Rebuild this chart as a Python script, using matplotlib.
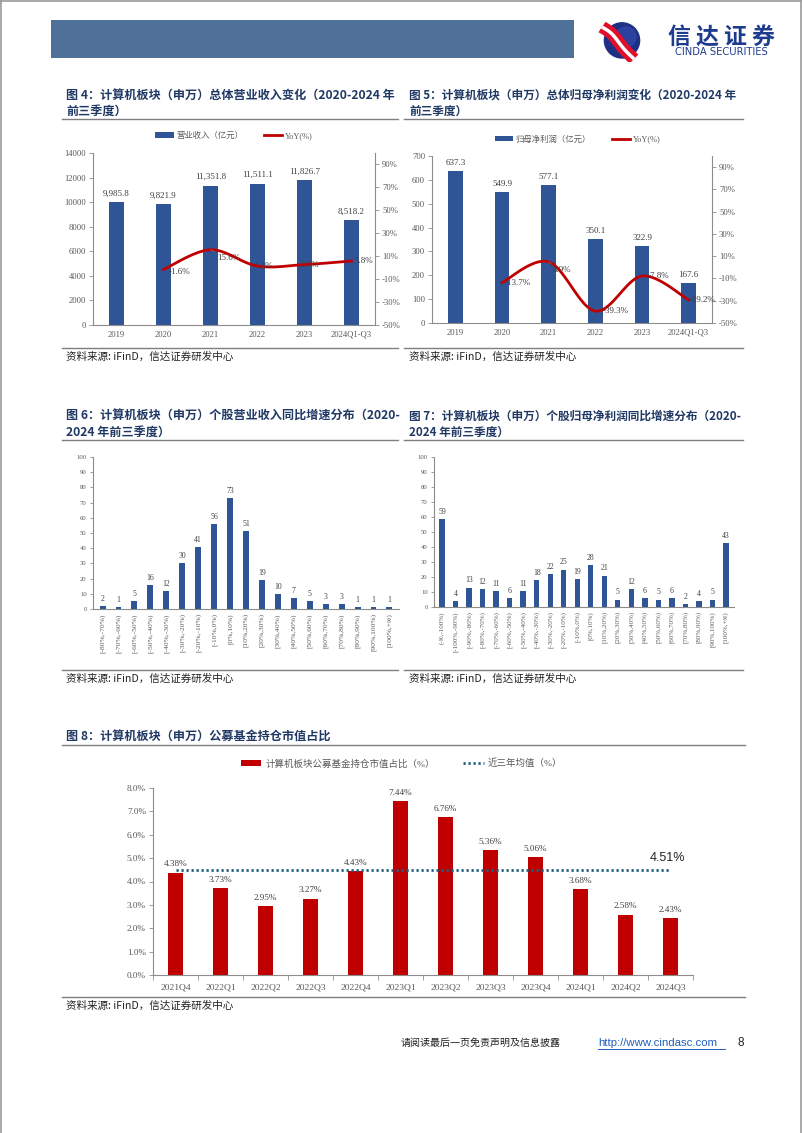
import matplotlib
matplotlib.use("Agg")
import matplotlib.pyplot as plt
from matplotlib.patches import Rectangle, Circle
from matplotlib.lines import Line2D
import numpy as np

W, H = 802, 1133
CJK = "Noto Sans CJK SC"
SERIF = ["Liberation Serif", CJK]
plt.rcParams["font.family"] = SERIF

TITLE_C = "#1F3864"
TICK_C = "#595959"
AX_C = "#8C8C8C"
LBL_C = "#404040"
BLUE = "#2F5597"
RED = "#C00000"

# ---- data ----
years = ["2019", "2020", "2021", "2022", "2023", "2024Q1-Q3"]
revenue = [9985.8, 9821.9, 11351.8, 11511.1, 11826.7, 8518.2]
revenue_yoy = [-1.6, 15.6, 1.4, 2.7, 5.8]          # 2020 ~ 2024Q1-Q3
profit = [637.3, 549.9, 577.1, 350.1, 322.9, 167.6]
profit_yoy = [-13.7, 4.9, -39.3, -7.8, -29.2]       # 2020 ~ 2024Q1-Q3

rev_bins = ["[-80%,-70%)", "[-70%,-60%)", "[-60%,-50%)", "[-50%,-40%)", "[-40%,-30%)",
            "[-30%,-20%)", "[-20%,-10%)", "[-10%,0%)", "[0%,10%)", "[10%,20%)",
            "[20%,30%)", "[30%,40%)", "[40%,50%)", "[50%,60%)", "[60%,70%)",
            "[70%,80%)", "[80%,90%)", "[90%,100%)", "[100%,+∞)"]
rev_counts = [2, 1, 5, 16, 12, 30, 41, 56, 73, 51, 19, 10, 7, 5, 3, 3, 1, 1, 1]

np_bins = ["(-∞,-100%)", "[-100%,-90%)", "[-90%,-80%)", "[-80%,-70%)", "[-70%,-60%)",
           "[-60%,-50%)", "[-50%,-40%)", "[-40%,-30%)", "[-30%,-20%)", "[-20%,-10%)",
           "[-10%,0%)", "[0%,10%)", "[10%,20%)", "[20%,30%)", "[30%,40%)", "[40%,50%)",
           "[50%,60%)", "[60%,70%)", "[70%,80%)", "[80%,90%)", "[90%,100%)", "[100%,+∞)"]
np_counts = [59, 4, 13, 12, 11, 6, 11, 18, 22, 25, 19, 28, 21, 5, 12, 6, 5, 6, 2, 4, 5, 43]

quarters = ["2021Q4", "2022Q1", "2022Q2", "2022Q3", "2022Q4", "2023Q1",
            "2023Q2", "2023Q3", "2023Q4", "2024Q1", "2024Q2", "2024Q3"]
fund_share = [4.38, 3.73, 2.95, 3.27, 4.43, 7.44, 6.76, 5.36, 5.06, 3.68, 2.58, 2.43]
fund_avg = 4.51

fig = plt.figure(figsize=(W / 100, H / 100), dpi=100)


def px_axes(x0, y0, x1, y1):
    return fig.add_axes([x0 / W, 1 - y1 / H, (x1 - x0) / W, (y1 - y0) / H])


def ftext(x, y, s, **kw):
    return fig.text(x / W, 1 - y / H, s, **kw)


def hline(x0, x1, y, color="#7F7F7F", lw=1.0):
    fig.add_artist(Line2D([x0 / W, x1 / W], [1 - y / H, 1 - y / H], color=color, lw=lw))


def smooth(xs, ys, n=30):
    # Excel-like smoothed line (Bezier through the points)
    p = np.column_stack([xs, ys]).astype(float)
    p = np.vstack([p[0], p, p[-1]])
    t = np.linspace(0, 1, n)[:, None]
    out = []
    for i in range(1, len(p) - 2):
        a, d = p[i], p[i + 1]
        b = a + (p[i + 1] - p[i - 1]) / 6
        c = d - (p[i + 2] - p[i]) / 6
        seg = (1 - t) ** 3 * a + 3 * (1 - t) ** 2 * t * b + 3 * (1 - t) * t ** 2 * c + t ** 3 * d
        out.append(seg)
    out = np.vstack(out)
    return out[:, 0], out[:, 1]


def style_axis(ax, left=True):
    for s in ["top", "right", "left", "bottom"]:
        ax.spines[s].set_visible(False)
    ax.spines["bottom"].set_visible(True)
    ax.spines["bottom"].set_color(AX_C)
    ax.spines["bottom"].set_linewidth(0.8)
    if left:
        ax.spines["left"].set_visible(True)
        ax.spines["left"].set_color(AX_C)
        ax.spines["left"].set_linewidth(0.8)
    ax.patch.set_alpha(0)


# ---- page frame and header ----
fig.add_artist(Line2D([0.5 / W, 0.5 / W], [0, 1], color="#9A9A9A", lw=1.2))
fig.add_artist(Line2D([800.5 / W, 800.5 / W], [0, 1], color="#9A9A9A", lw=1.2))
fig.add_artist(Line2D([0, 1], [1 - 0.8 / H, 1 - 0.8 / H], color="#9A9A9A", lw=1.2))
fig.add_artist(Rectangle((51 / W, 1 - 58 / H), (574 - 51) / W, 38 / H,
                         transform=fig.transFigure, color="#4E7099", lw=0))

lax = px_axes(588, 18, 652, 62)
lax.set_xlim(-1.1, 1.1)
lax.set_ylim(-1.1, 1.1)
lax.set_aspect("equal")
lax.axis("off")
lax.add_patch(Circle((0.1, -0.02), 0.88, color="#1F2F86"))
lax.add_patch(Circle((0.3, 0.15), 0.5, color="#3550B0", alpha=0.55))
sx, sy = smooth([-0.9, -0.4, 0.2, 0.7], [0.65, 0.3, -0.45, -0.95])
lax.plot(sx, sy, color="#E0102A", lw=9, solid_capstyle="butt")
lax.plot(sx, sy, color="white", lw=2.5, solid_capstyle="butt")

for i, ch in enumerate("信达证券"):
    ftext(679 + i * 28, 37, ch, family=[CJK], fontsize=16.5, fontweight="bold",
          color="#1E3C8E", ha="center", va="center")
ftext(721, 52, "CINDA SECURITIES", family=["DejaVu Sans"], fontsize=7.2,
      color="#1E3C8E", ha="center", va="center")


# ---- combo charts (figure 4 & 5) ----
def combo(box, vals, yoy, ymax, ystep, fmt, bar_label, offsets, leg_x):
    ax = px_axes(*box)
    x = np.arange(len(years))
    bars = ax.bar(x, vals, width=0.31, color=BLUE, zorder=2, label=bar_label)
    ax.set_xlim(-0.5, len(years) - 0.5)
    ax.set_ylim(0, ymax)
    ax.set_yticks(np.arange(0, ymax + 1, ystep))
    ax.set_xticks(x)
    ax.set_xticklabels(years)
    style_axis(ax)
    ax.tick_params(axis="y", length=3, width=0.6, color=AX_C, labelcolor=TICK_C,
                   labelsize=6.2, pad=2)
    ax.tick_params(axis="x", length=0, labelcolor=TICK_C, labelsize=6.2, pad=4)
    for xi, v in zip(x, vals):
        ax.text(xi, v + ymax * 0.025, fmt(v), ha="center", va="bottom",
                fontsize=6.5, color=LBL_C)

    ax2 = ax.twinx()
    ax2.set_ylim(-50, 100)
    ax2.set_yticks(np.arange(-50, 91, 20))
    ax2.set_yticklabels([f"{v}%" for v in range(-50, 91, 20)])
    for s in ["top", "left", "bottom"]:
        ax2.spines[s].set_visible(False)
    ax2.spines["right"].set_color(AX_C)
    ax2.spines["right"].set_linewidth(0.8)
    ax2.tick_params(axis="y", length=3, width=0.6, color=AX_C, labelcolor=TICK_C,
                    labelsize=6.2, pad=2)
    lx, ly = smooth(x[1:], yoy)
    line, = ax2.plot(lx, ly, color=RED, lw=2.0, zorder=3, label="YoY(%)")
    for xi, v, (dx, dy, ha, lead) in zip(x[1:], yoy, offsets):
        ap = dict(arrowstyle="-", color="#7F7F7F", lw=0.5,
                  shrinkA=0, shrinkB=0) if lead else None
        ax2.annotate(f"{v}%", (xi, v), xytext=(dx, dy), textcoords="offset points",
                     ha=ha, va="center", fontsize=6.5, color=LBL_C, arrowprops=ap)
    ax2.legend([bars, line], [bar_label, "YoY(%)"], loc="center", ncol=2,
               bbox_to_anchor=(leg_x, 1.1), frameon=False, fontsize=6,
               handlelength=2.2, handleheight=0.6, columnspacing=2.5,
               handletextpad=0.3, labelcolor=TICK_C)
    return ax


combo((93, 153, 375, 325), revenue, revenue_yoy, 14000, 2000,
      lambda v: f"{v:,.1f}", "营业收入（亿元）",
      [(4, -2, "left", False), (5, -6, "left", True), (4, 0, "center", False),
       (4, 0, "center", False), (2, 0, "left", False)], 0.5)
combo((432, 156, 712, 323), profit, profit_yoy, 700, 100,
      lambda v: f"{v:.1f}", "归母净利润（亿元）",
      [(2, 0, "left", False), (3, -6, "left", True), (5, 0, "left", False),
       (4, 0, "left", False), (1, 0, "left", False)], 0.52)


# ---- distribution charts (figure 6 & 7) ----
def dist(box, bins, counts, width, tsize):
    ax = px_axes(*box)
    x = np.arange(len(bins))
    ax.bar(x, counts, width=width, color=BLUE, zorder=2)
    ax.set_xlim(-0.6, len(bins) - 0.4)
    ax.set_ylim(0, 100)
    ax.set_yticks(range(0, 101, 10))
    ax.set_xticks(x)
    ax.set_xticklabels(bins, rotation=90)
    style_axis(ax)
    ax.tick_params(axis="y", length=2.5, width=0.6, color=AX_C, labelcolor=TICK_C,
                   labelsize=4.8, pad=2)
    ax.tick_params(axis="x", length=0, labelcolor=TICK_C, labelsize=tsize, pad=3)
    for xi, v in zip(x, counts):
        ax.text(xi, v + 2, str(v), ha="center", va="bottom", fontsize=5.6, color=LBL_C)
    return ax


dist((93, 457, 399, 609), rev_bins, rev_counts, 0.37, 5.4)
dist((434, 457, 734, 607), np_bins, np_counts, 0.4, 5.0)

# ---- figure 8 ----
ax8 = px_axes(153, 788, 693, 975)
x8 = np.arange(len(quarters))
b8 = ax8.bar(x8, [v / 100 for v in fund_share], width=0.33, color=RED, zorder=2)
avg_line, = ax8.plot(x8, [fund_avg / 100] * len(x8), color="#1F5F7F", lw=2.0,
                     linestyle=(0, (0.8, 1.0)), zorder=3)
ax8.set_xlim(-0.5, len(quarters) - 0.5)
ax8.set_ylim(0, 0.08)
ax8.set_yticks(np.arange(0, 0.081, 0.01))
ax8.set_yticklabels([f"{v:.1f}%" for v in np.arange(0, 8.1, 1.0)])
ax8.set_xticks(x8)
ax8.set_xticklabels(quarters)
ax8.set_xticks(np.arange(-0.5, len(quarters), 1), minor=True)
style_axis(ax8)
ax8.tick_params(axis="y", length=3, width=0.6, color=AX_C, labelcolor=TICK_C,
                labelsize=6.6, pad=2)
ax8.tick_params(axis="x", which="major", length=0, labelcolor=TICK_C, labelsize=6.8, pad=6)
ax8.tick_params(axis="x", which="minor", length=3.5, width=0.6, color=AX_C)
for xi, v in zip(x8, fund_share):
    ax8.text(xi, v / 100 + 0.0018, f"{v:.2f}%", ha="center", va="bottom",
             fontsize=6.6, color=LBL_C)
ax8.text(len(x8) - 1.07, fund_avg / 100 + 0.0025, f"{fund_avg:.2f}%", ha="center",
         va="bottom", fontsize=9, color="#222222", family=["Liberation Sans"])
ax8.legend([b8, avg_line], ["计算机板块公募基金持仓市值占比（%）", "近三年均值（%）"],
           loc="center", ncol=2, bbox_to_anchor=(0.46, 1.13), frameon=False,
           fontsize=6.8, handlelength=2.2, handleheight=0.6, columnspacing=3,
           handletextpad=0.4, labelcolor=TICK_C)

# ---- titles, separators, sources ----
tkw = dict(family=[CJK], fontsize=8.7, fontweight="bold", color=TITLE_C, va="center")
tkw2 = dict(tkw, fontsize=8.4)
ftext(66, 95, "图 4：计算机板块（申万）总体营业收入变化（2020-2024 年", **tkw)
ftext(66, 111, "前三季度）", **tkw)
ftext(409, 95, "图 5：计算机板块（申万）总体归母净利润变化（2020-2024 年", **tkw2)
ftext(409, 111, "前三季度）", **tkw2)
ftext(66, 416, "图 6：计算机板块（申万）个股营业收入同比增速分布（2020-", **tkw)
ftext(66, 432, "2024 年前三季度）", **tkw)
ftext(409, 416, "图 7：计算机板块（申万）个股归母净利润同比增速分布（2020-", **tkw2)
ftext(409, 432, "2024 年前三季度）", **tkw2)
ftext(66, 737, "图 8：计算机板块（申万）公募基金持仓市值占比", **tkw)

for x0, x1 in [(62, 398), (404, 743)]:
    hline(x0, x1, 119)
    hline(x0, x1, 348)
    hline(x0, x1, 440)
    hline(x0, x1, 670)
hline(62, 745, 745)
hline(62, 745, 997)

skw = dict(family=[CJK], fontsize=7.6, color="#222222", va="center", style="italic")
for sx0, sy0 in [(66, 357), (409, 357), (66, 679), (409, 679), (66, 1006)]:
    ftext(sx0, sy0, "资料来源: iFinD，信达证券研发中心", **skw)

# ---- footer ----
ftext(401, 1043, "请阅读最后一页免责声明及信息披露", family=[CJK], fontsize=7.2,
      color="#222222", va="center")
ftext(598, 1043, "http://www.cindasc.com", family=["Liberation Sans"], fontsize=8.2,
      color="#1F5FBF", va="center")
hline(598, 725, 1049, color="#1F5FBF", lw=0.7)
ftext(737, 1043, "8", family=["Liberation Sans"], fontsize=8.5, color="#222222",
      va="center")

fig.savefig("out.png", dpi=100)
